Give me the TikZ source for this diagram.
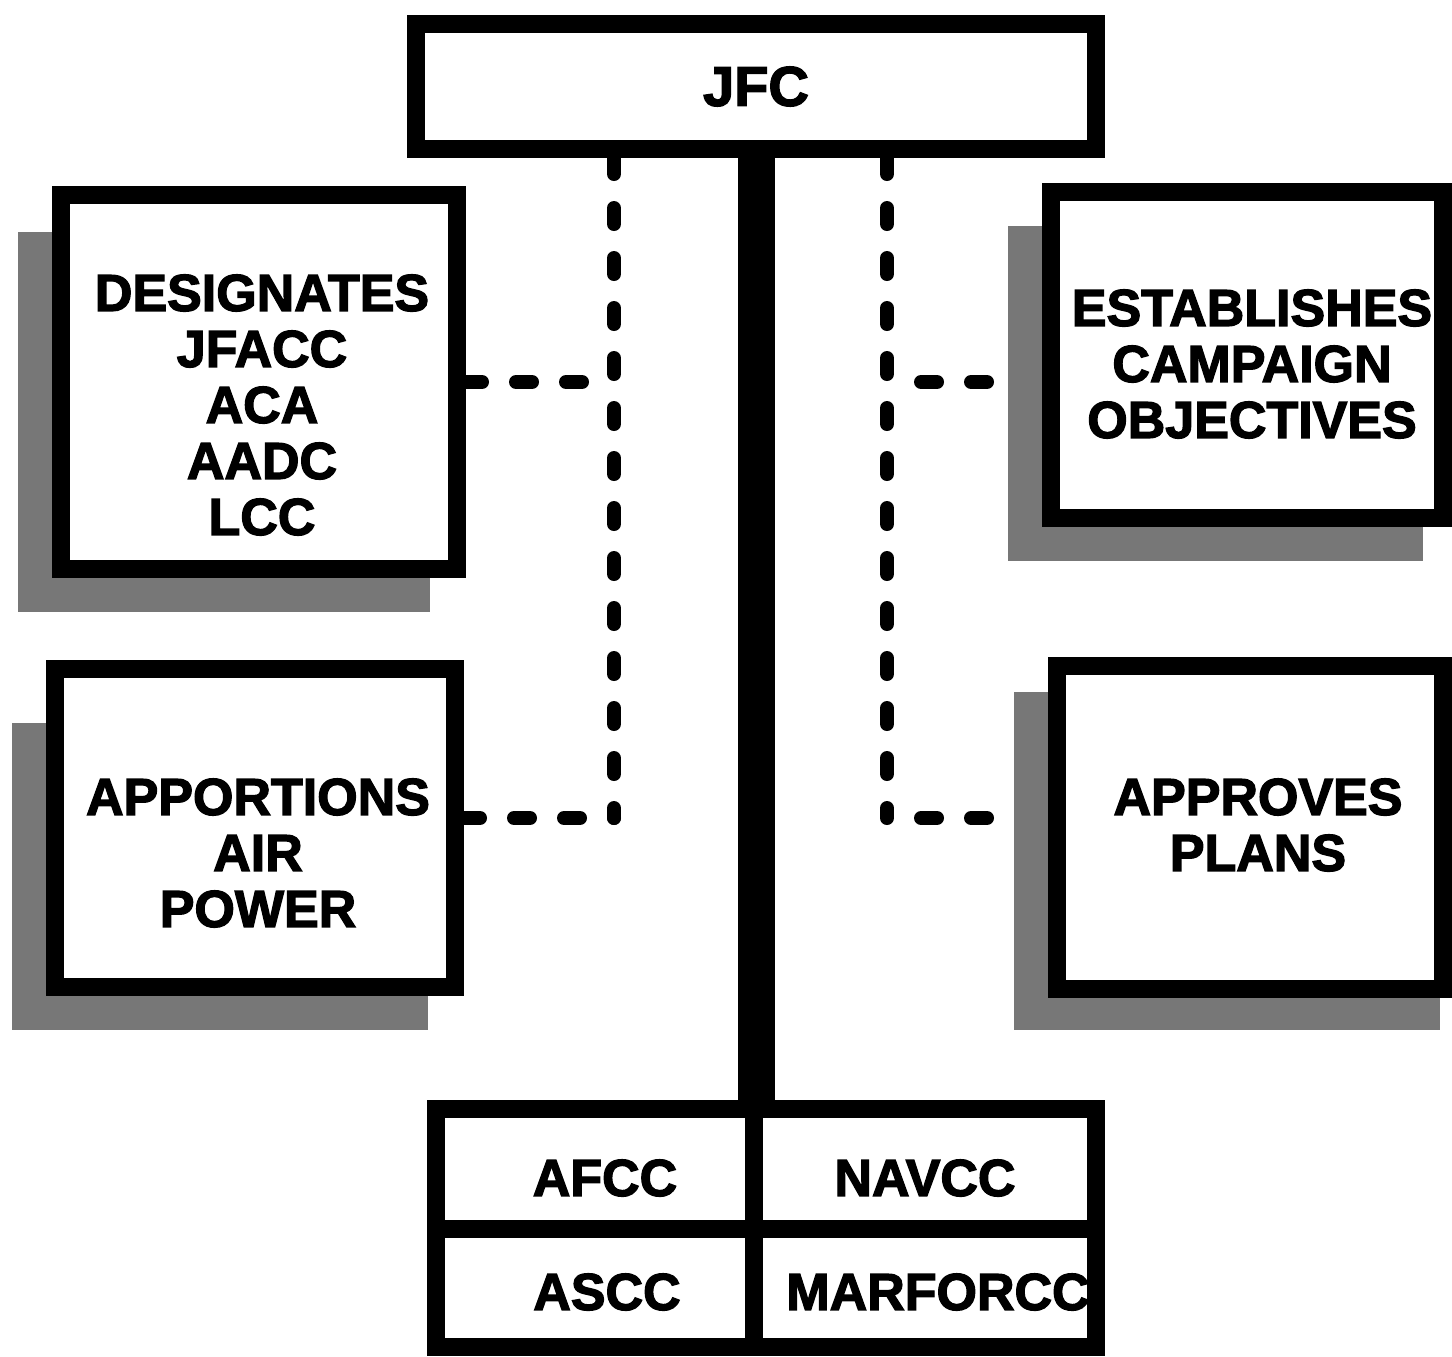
\documentclass[tikz,border=0pt]{standalone}
\usepackage{fontspec}
\newfontfamily\chartfont{Liberation Sans}[UprightFont=* Bold,FakeBold=2.5]
\usetikzlibrary{calc,backgrounds}

\definecolor{dropgray}{HTML}{777777}

\tikzset{
  box/.style={draw, line width=9pt, fill=white, inner sep=0pt},
  boxtext/.style={font=\chartfont\fontsize{26}{28}\selectfont, align=center, inner sep=0pt},
  dashline/.style={line width=7pt, dash pattern=on 8pt off 17pt, line cap=round},
  trunk/.style={line width=18.5pt},
}

\begin{document}
\begin{tikzpicture}[x=0.5pt, y=-0.5pt]
 \useasboundingbox (0,0) rectangle (1452,1356);

 % boxes
 \node[box, minimum width=340pt, minimum height=62.5pt,
       font=\chartfont\fontsize{28}{30}\selectfont] (jfc) at (756,86.5) {JFC};
 \node[box, minimum width=198pt, minimum height=187pt] (desig) at (259,382) {};
 \node[box, minimum width=200pt, minimum height=159pt] (appor) at (255,828) {};
 \node[box, minimum width=196pt, minimum height=163pt] (estab) at (1247,355) {};
 \node[box, minimum width=193pt, minimum height=161.5pt] (approv) at (1250,827.5) {};
 \node[box, minimum width=330pt, minimum height=119pt] (tbl) at (766,1228) {};

 \node[boxtext] (desigtext) at (262,405) {DESIGNATES\\JFACC\\ACA\\AADC\\LCC};
 \node[boxtext] (approtext) at (258,853) {APPORTIONS\\AIR\\POWER};
 \node[boxtext] (estabtext) at (1252,364) {ESTABLISHES\\CAMPAIGN\\OBJECTIVES};
 \node[boxtext] (approvtext) at (1258,825) {APPROVES\\PLANS};

 % component commands
 \coordinate (split) at (753.5,1229);
 \draw[line width=9pt] (tbl.west |- split) -- (tbl.east |- split);
 \draw[line width=9pt] (split |- tbl.north) -- (split |- tbl.south);
 \node[boxtext] (afcc) at (605,1178) {AFCC};
 \node[boxtext] (navcc) at (925,1178) {NAVCC};
 \node[boxtext] (ascc) at (607,1292) {ASCC};
 \node[boxtext] (marforcc) at (938,1292) {MARFORCC};

 % links
 \draw[trunk] (jfc.south) -- (jfc.south |- tbl.north);

 \coordinate (lbus) at (614,818);
 \coordinate (rbus) at (887,818);
 \begin{scope}[on background layer]
  \draw[dashline] (jfc.south -| lbus) -- (lbus);
  \draw[dashline] (desig.east) -- (desig.east -| lbus);
  \draw[dashline] (lbus -| appor.east) -- (lbus);
  \draw[dashline] (jfc.south -| rbus) -- (rbus);
  \draw[dashline, dash phase=8pt] (rbus |- desig.east) -- (estab.west |- desig.east);
  \draw[dashline, dash phase=8pt] (rbus) -- (rbus -| approv.west);

  % shadows
  \fill[dropgray] ($(desig.north west)+(-34,46)$) rectangle ($(desig.south east)+(-36,34)$);
  \fill[dropgray] ($(appor.north west)+(-34,63)$) rectangle ($(appor.south east)+(-36,34)$);
  \fill[dropgray] ($(estab.north west)+(-34,43)$) rectangle ($(estab.south east)+(-29,34)$);
  \fill[dropgray] ($(approv.north west)+(-34,35)$) rectangle ($(approv.south east)+(-12,32)$);
 \end{scope}
\end{tikzpicture}
\end{document}
